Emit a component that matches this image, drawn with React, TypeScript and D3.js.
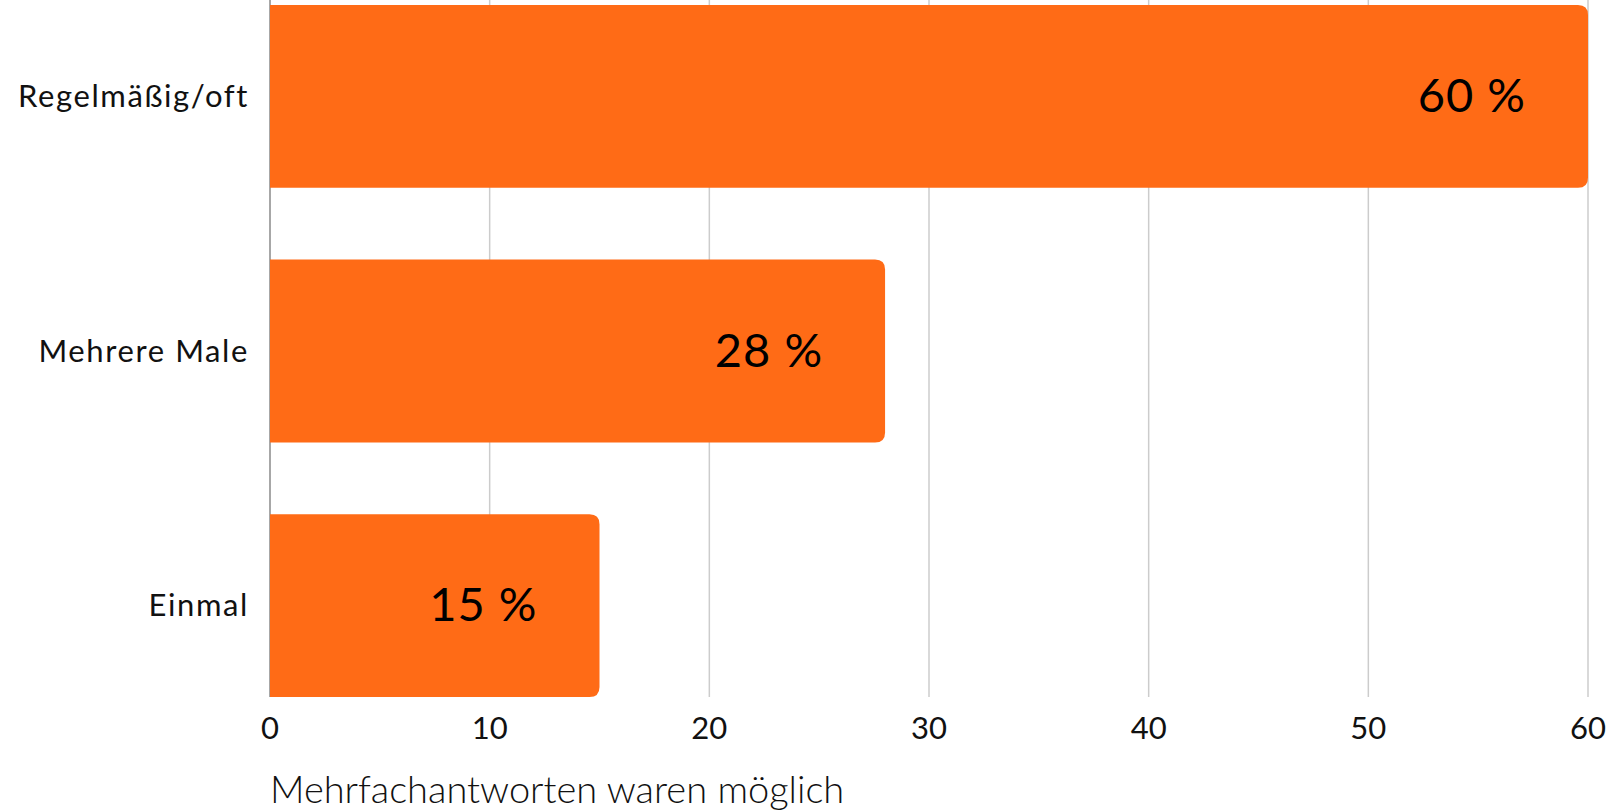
import { useEffect, useRef } from "react";
import * as d3 from "d3";

const categories = ["Regelmäßig/oft", "Mehrere Male", "Einmal"];
const values = [60, 28, 15];
const ticks = [0, 10, 20, 30, 40, 50, 60];
const footnote = "Mehrfachantworten waren möglich";

const W = 1610;
const H = 812;
const FONT = "Lato, 'Open Sans', sans-serif";
const ORANGE = "#ff6b16";

// bar with rounded right corners only
const barPath = (x0: number, x1: number, y0: number, h: number, r: number) => {
  const rr = Math.min(r, (x1 - x0) / 2, h / 2);
  return `M${x0},${y0}H${x1 - rr}Q${x1},${y0} ${x1},${y0 + rr}V${y0 + h - rr}Q${x1},${y0 + h} ${x1 - rr},${y0 + h}H${x0}Z`;
};

export default function App() {
  const ref = useRef<SVGSVGElement>(null);
  useEffect(() => {
    if (!ref.current) return;
    const svg = d3.select(ref.current);
    svg.selectAll("*").remove();

    const x = d3.scaleLinear().domain([0, 60]).range([270, 1588]);
    const y = d3.scaleBand<string>()
      .domain(categories)
      .range([5, 697])
      .paddingInner(0.282)
      .paddingOuter(0);

    // gridlines
    svg.append("g")
      .selectAll("line")
      .data(ticks.slice(1))
      .join("line")
      .attr("x1", (d) => x(d)).attr("x2", (d) => x(d))
      .attr("y1", 0).attr("y2", 697)
      .attr("stroke", "#cccccc").attr("stroke-width", 1.5);

    // zero axis line
    svg.append("line")
      .attr("x1", x(0)).attr("x2", x(0))
      .attr("y1", 0).attr("y2", 697)
      .attr("stroke", "#8a8a8a").attr("stroke-width", 1.5);

    // bars
    svg.append("g")
      .selectAll("path")
      .data(values)
      .join("path")
      .attr("d", (d, i) => barPath(x(0), x(d), y(categories[i])!, y.bandwidth(), 10))
      .attr("fill", ORANGE);

    // value labels
    svg.append("g")
      .selectAll("text")
      .data(values)
      .join("text")
      .attr("x", (d) => x(d) - 62)
      .attr("y", (d, i) => y(categories[i])! + y.bandwidth() / 2)
      .attr("dy", "0.33em")
      .attr("text-anchor", "end")
      .attr("font-family", FONT)
      .attr("font-size", 47)
      .attr("letter-spacing", 1)
      .attr("fill", "#000")
      .text((d) => `${d} %`);

    // category labels
    svg.append("g")
      .selectAll("text")
      .data(categories)
      .join("text")
      .attr("x", 249)
      .attr("y", (d) => y(d)! + y.bandwidth() / 2)
      .attr("dy", "0.35em")
      .attr("text-anchor", "end")
      .attr("font-family", FONT)
      .attr("font-size", 31)
      .attr("letter-spacing", 1.6)
      .attr("fill", "#111")
      .text((d) => d);

    // x tick labels
    svg.append("g")
      .selectAll("text")
      .data(ticks)
      .join("text")
      .attr("x", (d) => x(d))
      .attr("y", 739)
      .attr("text-anchor", "middle")
      .attr("font-family", FONT)
      .attr("font-size", 31)
      .attr("fill", "#111")
      .text((d) => String(d));

    // footnote
    svg.append("text")
      .attr("x", x(0))
      .attr("y", 803)
      .attr("font-family", FONT)
      .attr("font-weight", 300)
      .attr("font-size", 38)
      .attr("fill", "#111")
      .text(footnote);
  }, []);
  return (
    <svg
      ref={ref}
      width={W}
      height={H}
      viewBox={`0 0 ${W} ${H}`}
      style={{ position: "absolute", left: 0, top: 0, background: "#fff" }}
    />
  );
}
